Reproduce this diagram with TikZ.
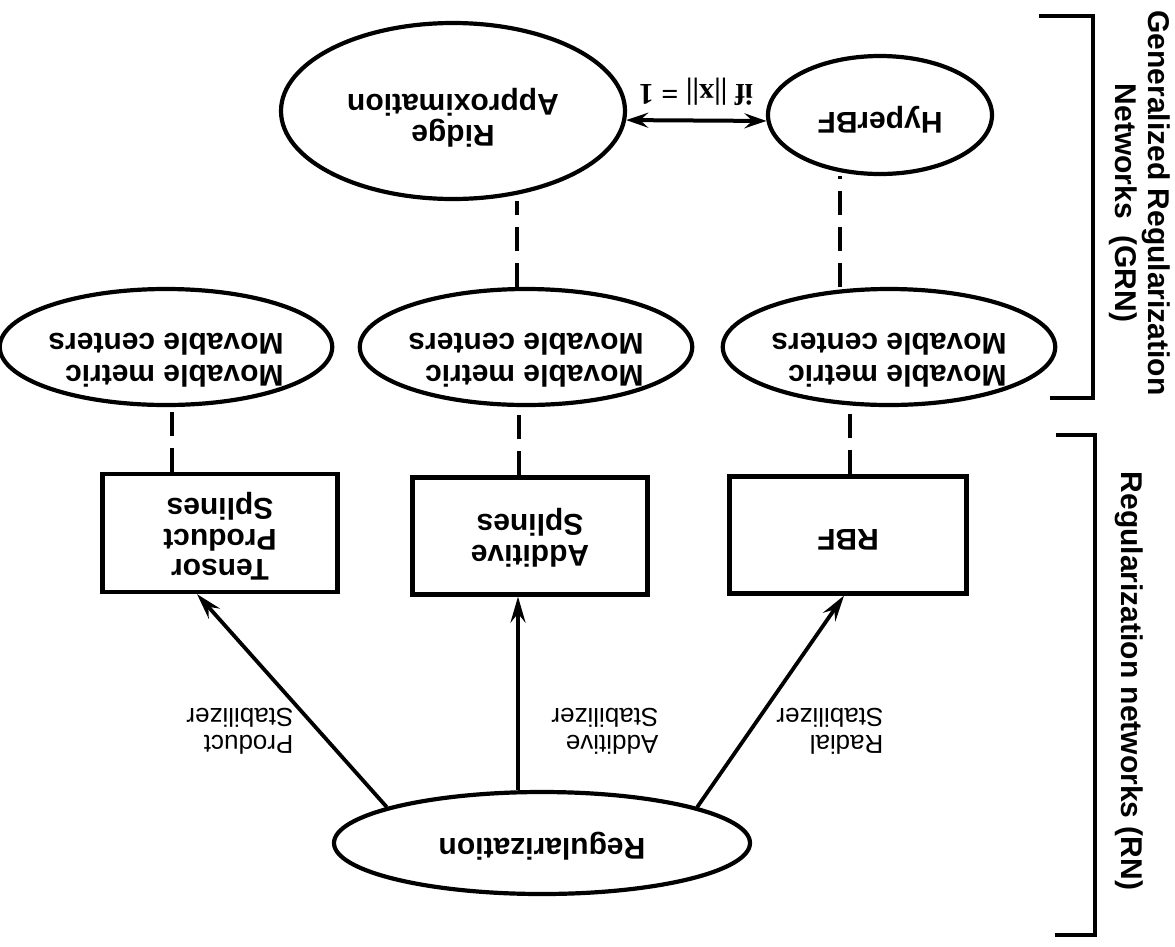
\documentclass[tikz,border=0pt]{standalone}
\usepackage{fontspec}
\setmainfont{Liberation Sans}
\newfontfamily\serifb{Liberation Serif}
\usetikzlibrary{shapes.geometric,arrows.meta,calc}
\tikzset{
  ell/.style={draw,ellipse,line width=4.2pt,inner sep=0pt},
  boxnode/.style={draw,rectangle,line width=4.2pt,inner sep=0pt},
  dline/.style={line width=4.2pt,dash pattern=on 24pt off 12pt},
  arr/.style={line width=3.8pt,-{Stealth[length=26pt,width=15pt,inset=9pt]}},
  dblarr/.style={line width=4pt,{Stealth[length=22pt,width=15pt,inset=8pt]}-{Stealth[length=22pt,width=15pt,inset=8pt]}},
  bigtxt/.style={font=\fontsize{30}{30}\selectfont\bfseries},
  mvtxt/.style={font=\fontsize{30}{32}\selectfont\bfseries},
  lab/.style={font=\fontsize{26}{27}\selectfont, rotate=180, align=left, inner sep=0pt},
  side/.style={font=\fontsize{30}{33}\selectfont\bfseries, rotate=-90, align=center, inner sep=0pt},
  brk/.style={line width=4.2pt},
}
% #1 alignment, #2 visual downward shift, #3 text
\newcommand{\flip}[3]{\rotatebox{180}{\raisebox{#2}[\height][\depth]{\begin{tabular}{@{}#1@{}}#3\end{tabular}}}}
\begin{document}
\begin{tikzpicture}[x=1pt,y=-1pt]
\useasboundingbox (0,0) rectangle (1175,946);
% top row
\node[ell, bigtxt, minimum width=344pt, minimum height=176pt] (ridge) at (453,111) {\flip{c}{5pt}{Ridge\\Approximation}};
\node[ell, bigtxt, minimum width=224pt, minimum height=118pt] (hyper) at (880,115) {\flip{c}{3pt}{HyperBF}};
\node[rotate=180, inner sep=0pt, font={\serifb\fontsize{30}{32}\selectfont\bfseries}] (iflab) at (696,92) {if ||x|| = 1};
\draw[dblarr] (ridge.-3) -- (hyper.183);
% movable row
\node[ell, mvtxt, minimum width=318pt, minimum height=116pt] (mvL) at (166,347) {\flip{l}{9pt}{Movable metric\\Movable centers}};
\node[ell, mvtxt, minimum width=318pt, minimum height=116pt] (mvM) at (526,347) {\flip{l}{9pt}{Movable metric\\Movable centers}};
\node[ell, mvtxt, minimum width=318pt, minimum height=116pt] (mvR) at (889,347) {\flip{l}{9pt}{Movable metric\\Movable centers}};
% boxes
\node[boxnode, bigtxt, minimum width=235pt, minimum height=118pt] (tensor) at (220,533) {\flip{c}{2pt}{Tensor\\Product\\Splines}};
\node[boxnode, bigtxt, minimum width=235pt, minimum height=117pt] (additive) at (530,536) {\flip{c}{0pt}{Additive\\Splines}};
\node[boxnode, bigtxt, minimum width=237pt, minimum height=117pt] (rbf) at (848,535) {\flip{c}{0pt}{RBF}};
% regularization
\node[ell, bigtxt, minimum width=416pt, minimum height=102pt] (reg) at (542,843) {\flip{c}{2pt}{Regularization}};
% dashed connectors
\draw[dline] ($(mvM.north)+(-9,0)$) -- ($(ridge.south)+(64,0)$);
\draw[dline] ($(mvR.north)+(-49,0)$) -- ($(hyper.south)+(-40,0)$);
\draw[dline] ($(tensor.north)+(-48,0)$) -- ($(mvL.south)+(6,0)$);
\draw[dline] ($(additive.north)+(-11,0)$) -- ($(mvM.south)+(-7,0)$);
\draw[dline] ($(rbf.north)+(2,0)$) -- ($(mvR.south)+(-39,0)$);
% arrows
\draw[arr] (reg.167) -- ($(tensor.south)+(-23,0)$);
\draw[arr] ($(reg.north)+(-24,0)$) -- ($(additive.south)+(-12,0)$);
\draw[arr] (reg.13) -- ($(rbf.south)+(-4,0)$);
% arrow labels
\node[lab] (lprod) at (240,731) {Product\\Stabilizer};
\node[lab] (ladd) at (605,731) {Additive\\Stabilizer};
\node[lab] (lrad) at (830,731) {Radial\\Stabilizer};
% brackets
\coordinate (g1) at (1039,16); \coordinate (g2) at (1093,16);
\coordinate (g3) at (1093,398); \coordinate (g4) at (1050,398);
\draw[brk] (g1) -- (g2) -- (g3) -- (g4);
\coordinate (r1) at (1056,435); \coordinate (r2) at (1095,435);
\coordinate (r3) at (1095,935); \coordinate (r4) at (1055,935);
\draw[brk] (r1) -- (r2) -- (r3) -- (r4);
\node[side] (grn) at (1140,203) {Generalized Regularization\\Networks~ (GRN)};
\node[side] (rn) at (1129,681) {Regularization networks (RN)};
\end{tikzpicture}
\end{document}
